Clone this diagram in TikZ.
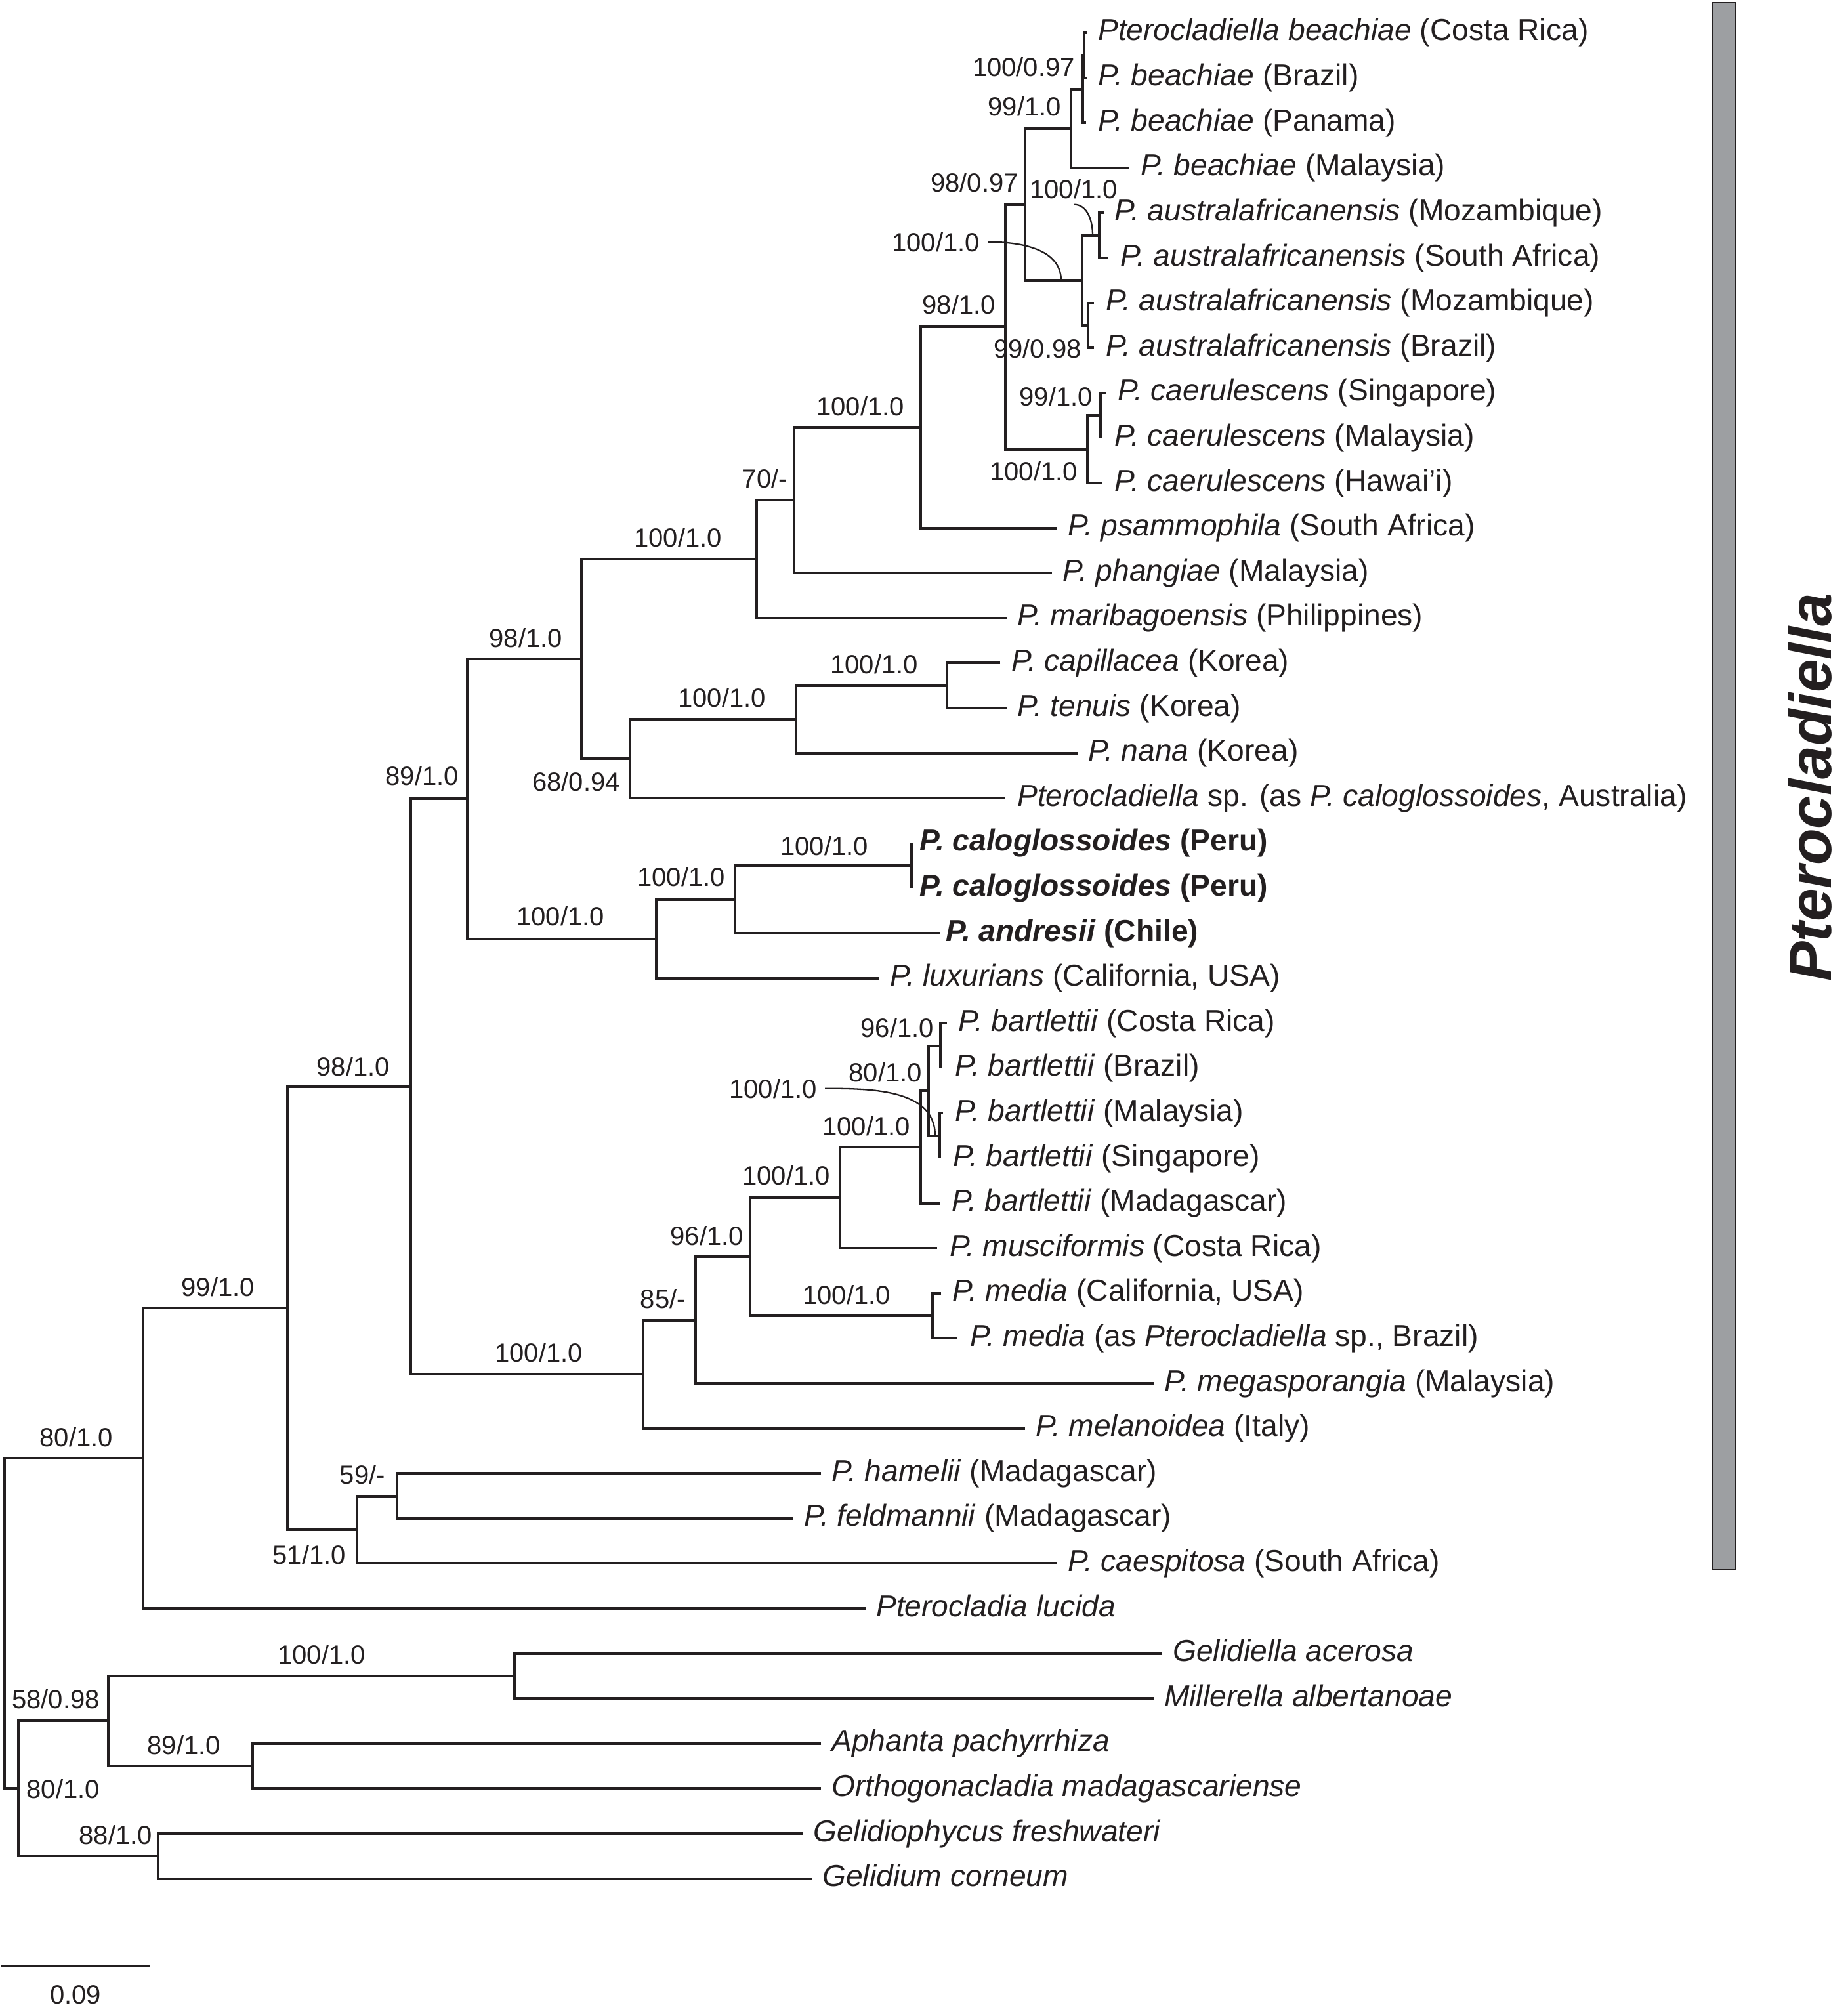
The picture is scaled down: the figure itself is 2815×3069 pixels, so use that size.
\documentclass[tikz,border=0pt]{standalone}
\usepackage{fontspec}
\setmainfont{Liberation Sans}
\usetikzlibrary{positioning}
\definecolor{treeink}{HTML}{231F20}
\definecolor{cladegrey}{HTML}{9D9FA2}

\begin{document}
\begin{tikzpicture}[x=1pt, y=-1pt, treeink,
  every node/.style={font=\fontsize{40}{48}\selectfont, inner sep=0pt, text=treeink},
  br/.style={line width=4pt},
  lead/.style={line width=2.3pt},
  leaf/.style={anchor=base west, font=\fontsize{46.2}{55}\selectfont},
  supp/.style={anchor=base east}]
  \useasboundingbox (0,0) rectangle (2815,3069);

  % tips and taxon names (tip x / text x / name)
  \foreach \tx/\lx/\txt [count=\i] in {
    1656/1673/{\textit{Pterocladiella beachiae} (Costa Rica)},
    1656/1673/{\textit{P. beachiae} (Brazil)},
    1655/1673/{\textit{P. beachiae} (Panama)},
    1720/1738/{\textit{P. beachiae} (Malaysia)},
    1682/1698/{\textit{P. australafricanensis} (Mozambique)},
    1688/1707/{\textit{P. australafricanensis} (South Africa)},
    1667/1685/{\textit{P. australafricanensis} (Mozambique)},
    1667/1685/{\textit{P. australafricanensis} (Brazil)},
    1685/1703/{\textit{P. caerulescens} (Singapore)},
    1677/1698/{\textit{P. caerulescens} (Malaysia)},
    1680/1698/{\textit{P. caerulescens} (Hawai’i)},
    1611/1627/{\textit{P. psammophila} (South Africa)},
    1603/1619/{\textit{P. phangiae} (Malaysia)},
    1534/1550/{\textit{P. maribagoensis} (Philippines)},
    1524/1541/{\textit{P. capillacea} (Korea)},
    1534/1550/{\textit{P. tenuis} (Korea)},
    1642/1658/{\textit{P. nana} (Korea)},
    1532/1550/{\textit{Pterocladiella} sp. (as \textit{P. caloglossoides}, Australia)},
    1389/1401/{\textbf{\textit{P. caloglossoides} (Peru)}},
    1389/1401/{\textbf{\textit{P. caloglossoides} (Peru)}},
    1432/1441/{\textbf{\textit{P. andresii} (Chile)}},
    1340/1356/{\textit{P. luxurians} (California, USA)},
    1443/1460/{\textit{P. bartlettii} (Costa Rica)},
    1433/1455/{\textit{P. bartlettii} (Brazil)},
    1437/1455/{\textit{P. bartlettii} (Malaysia)},
    1432/1452/{\textit{P. bartlettii} (Singapore)},
    1432/1450/{\textit{P. bartlettii} (Madagascar)},
    1428/1447/{\textit{P. musciformis} (Costa Rica)},
    1434/1451/{\textit{P. media} (California, USA)},
    1459/1478/{\textit{P. media} (as \textit{Pterocladiella} sp., Brazil)},
    1758/1774/{\textit{P. megasporangia} (Malaysia)},
    1562/1578/{\textit{P. melanoidea} (Italy)},
    1251/1267/{\textit{P. hamelii} (Madagascar)},
    1209/1225/{\textit{P. feldmannii} (Madagascar)},
    1611/1627/{\textit{P. caespitosa} (South Africa)},
    1319/1335/{\textit{Pterocladia lucida}},
    1771/1787/{\textit{Gelidiella acerosa}},
    1758/1774/{\textit{Millerella albertanoae}},
    1251/1267/{\textit{Aphanta pachyrrhiza}},
    1251/1267/{\textit{Orthogonacladia madagascariense}},
    1223/1239/{\textit{Gelidiophycus freshwateri}},
    1237/1253/{\textit{Gelidium corneum}}}{
    \coordinate (t\i) at (\tx, {50+68.6*(\i-1)});
    \node[leaf] (l\i) at (\lx, {62+68.6*(\i-1)}) {\txt};
  }

  % internal nodes
  \coordinate (nA) at (1652,84);
  \coordinate (nB) at (1650,136);
  \coordinate (n99b) at (1632,196);
  \coordinate (nAu1) at (1675,359);
  \coordinate (nAu2) at (1658,496);
  \coordinate (nAu) at (1649,427);
  \coordinate (n9897) at (1562,312);
  \coordinate (nCa1) at (1677,633);
  \coordinate (nCa) at (1657,685);
  \coordinate (n981) at (1532,498);
  \coordinate (n1403) at (1403,651);
  \coordinate (n70) at (1210,762);
  \coordinate (n1153) at (1153,852);
  \coordinate (nCap) at (1443,1045);
  \coordinate (nNana) at (1213,1096);
  \coordinate (n68) at (960,1156);
  \coordinate (n885) at (886,1004);
  \coordinate (nPeru) at (1389,1319);
  \coordinate (nAnd) at (1120,1371);
  \coordinate (nLux) at (1000,1431);
  \coordinate (n89) at (712,1217);
  \coordinate (nB1) at (1433,1594);
  \coordinate (nB2) at (1432,1731);
  \coordinate (nB3) at (1415,1662);
  \coordinate (nB4) at (1403,1748);
  \coordinate (nMus) at (1280,1825);
  \coordinate (nMed) at (1421,2005);
  \coordinate (n96) at (1143,1915);
  \coordinate (n85) at (1060,2012);
  \coordinate (nMel) at (980,2094);
  \coordinate (n98) at (626,1656);
  \coordinate (n59) at (605,2280);
  \coordinate (n51) at (544,2331);
  \coordinate (n99) at (438,1993);
  \coordinate (n80a) at (218,2222);
  \coordinate (nGel) at (784,2554);
  \coordinate (nAph) at (385,2691);
  \coordinate (n58) at (165,2622);
  \coordinate (nGdp) at (241,2828);
  \coordinate (n80b) at (28,2725);
  \coordinate (root) at (7,2474);

  % branches
  \foreach \a/\p/\b in {t1/nA/t2, nA/nB/t3, nB/n99b/t4, t5/nAu1/t6, t7/nAu2/t8,
      nAu1/nAu/nAu2, n99b/n9897/nAu, t9/nCa1/t10, nCa1/nCa/t11, n9897/n981/nCa,
      n981/n1403/t12, n1403/n70/t13, n70/n1153/t14, t15/nCap/t16, nCap/nNana/t17,
      nNana/n68/t18, n1153/n885/n68, t19/nPeru/t20, nPeru/nAnd/t21, nAnd/nLux/t22,
      n885/n89/nLux, t23/nB1/t24, t25/nB2/t26, nB1/nB3/nB2, nB3/nB4/t27,
      nB4/nMus/t28, t29/nMed/t30, nMus/n96/nMed, n96/n85/t31, n85/nMel/t32,
      n89/n98/nMel, t33/n59/t34, n59/n51/t35, n98/n99/n51, n99/n80a/t36,
      t37/nGel/t38, t39/nAph/t40, nGel/n58/nAph, t41/nGdp/t42, n58/n80b/nGdp,
      n80a/root/n80b}
    \draw[br] (\a) -| (\p) |- (\b);

  % support values (bootstrap/posterior)
  \foreach \n/\x/\y/\v in {A/1638/117/{100/0.97}, 99b/1617/177/{99/1.0},
      9897/1552/292/{98/0.97}, Au1/1703/302/{100/1.0}, Au/1493/383/{100/1.0},
      981/1517/478/{98/1.0}, Au2/1648/545/{99/0.98}, Ca1/1665/618/{99/1.0},
      Ca/1642/732/{100/1.0}, 1403/1378/633/{100/1.0}, 70/1200/743/{70/-},
      1153/1100/833/{100/1.0}, 885/857/986/{98/1.0}, 68/945/1205/{68/0.94},
      Nana/1167/1077/{100/1.0}, Cap/1399/1026/{100/1.0}, And/1105/1350/{100/1.0},
      Peru/1323/1303/{100/1.0}, Lux/921/1410/{100/1.0}, 89/699/1196/{89/1.0},
      98/594/1639/{98/1.0}, B1/1423/1580/{96/1.0}, B3/1405/1648/{80/1.0},
      B2/1245/1673/{100/1.0}, B4/1387/1730/{100/1.0}, Mus/1265/1805/{100/1.0},
      96/1133/1897/{96/1.0}, Med/1357/1987/{100/1.0}, 85/1045/1993/{85/-},
      Mel/888/2075/{100/1.0}, 99/388/1975/{99/1.0}, 59/587/2261/{59/-},
      51/527/2383/{51/1.0}, 80a/172/2204/{80/1.0}, Gel/557/2535/{100/1.0},
      58/152/2603/{58/0.98}, Aph/336/2673/{89/1.0}, 80b/152/2740/{80/1.0},
      Gdp/232/2810/{88/1.0}}
    \node[supp] (s\n) at (\x,\y) {\v};

  % leader curves
  \coordinate (cAu) at (1617,428);
  \coordinate (cAu1) at (1665,359);
  \coordinate (cB2) at (1425,1731);
  \draw[lead] ([xshift=12pt]sAu.east) to[out=0,in=90] (cAu);
  \draw[lead] ([yshift=-9pt]sAu1.south) to[out=0,in=90] (cAu1);
  \draw[lead] ([xshift=12pt]sB2.east) to[out=0,in=90] (cB2);

  % scale bar
  \coordinate (sb0) at (2,2996);
  \coordinate (sb1) at (228,2996);
  \draw[br] (sb0) -- (sb1);
  \node[anchor=base] (sblab) at (115,3053) {0.09};

  % clade bar
  \node[draw=treeink, line width=1.5pt, fill=cladegrey, minimum width=36pt,
    minimum height=2388pt] (cladebar) at (2627,1198) {};
  \node[rotate=90, anchor=base, font=\fontsize{91}{100}\selectfont\bfseries\itshape]
    (cladename) at (2790,1200) {Pterocladiella};
\end{tikzpicture}
\end{document}
